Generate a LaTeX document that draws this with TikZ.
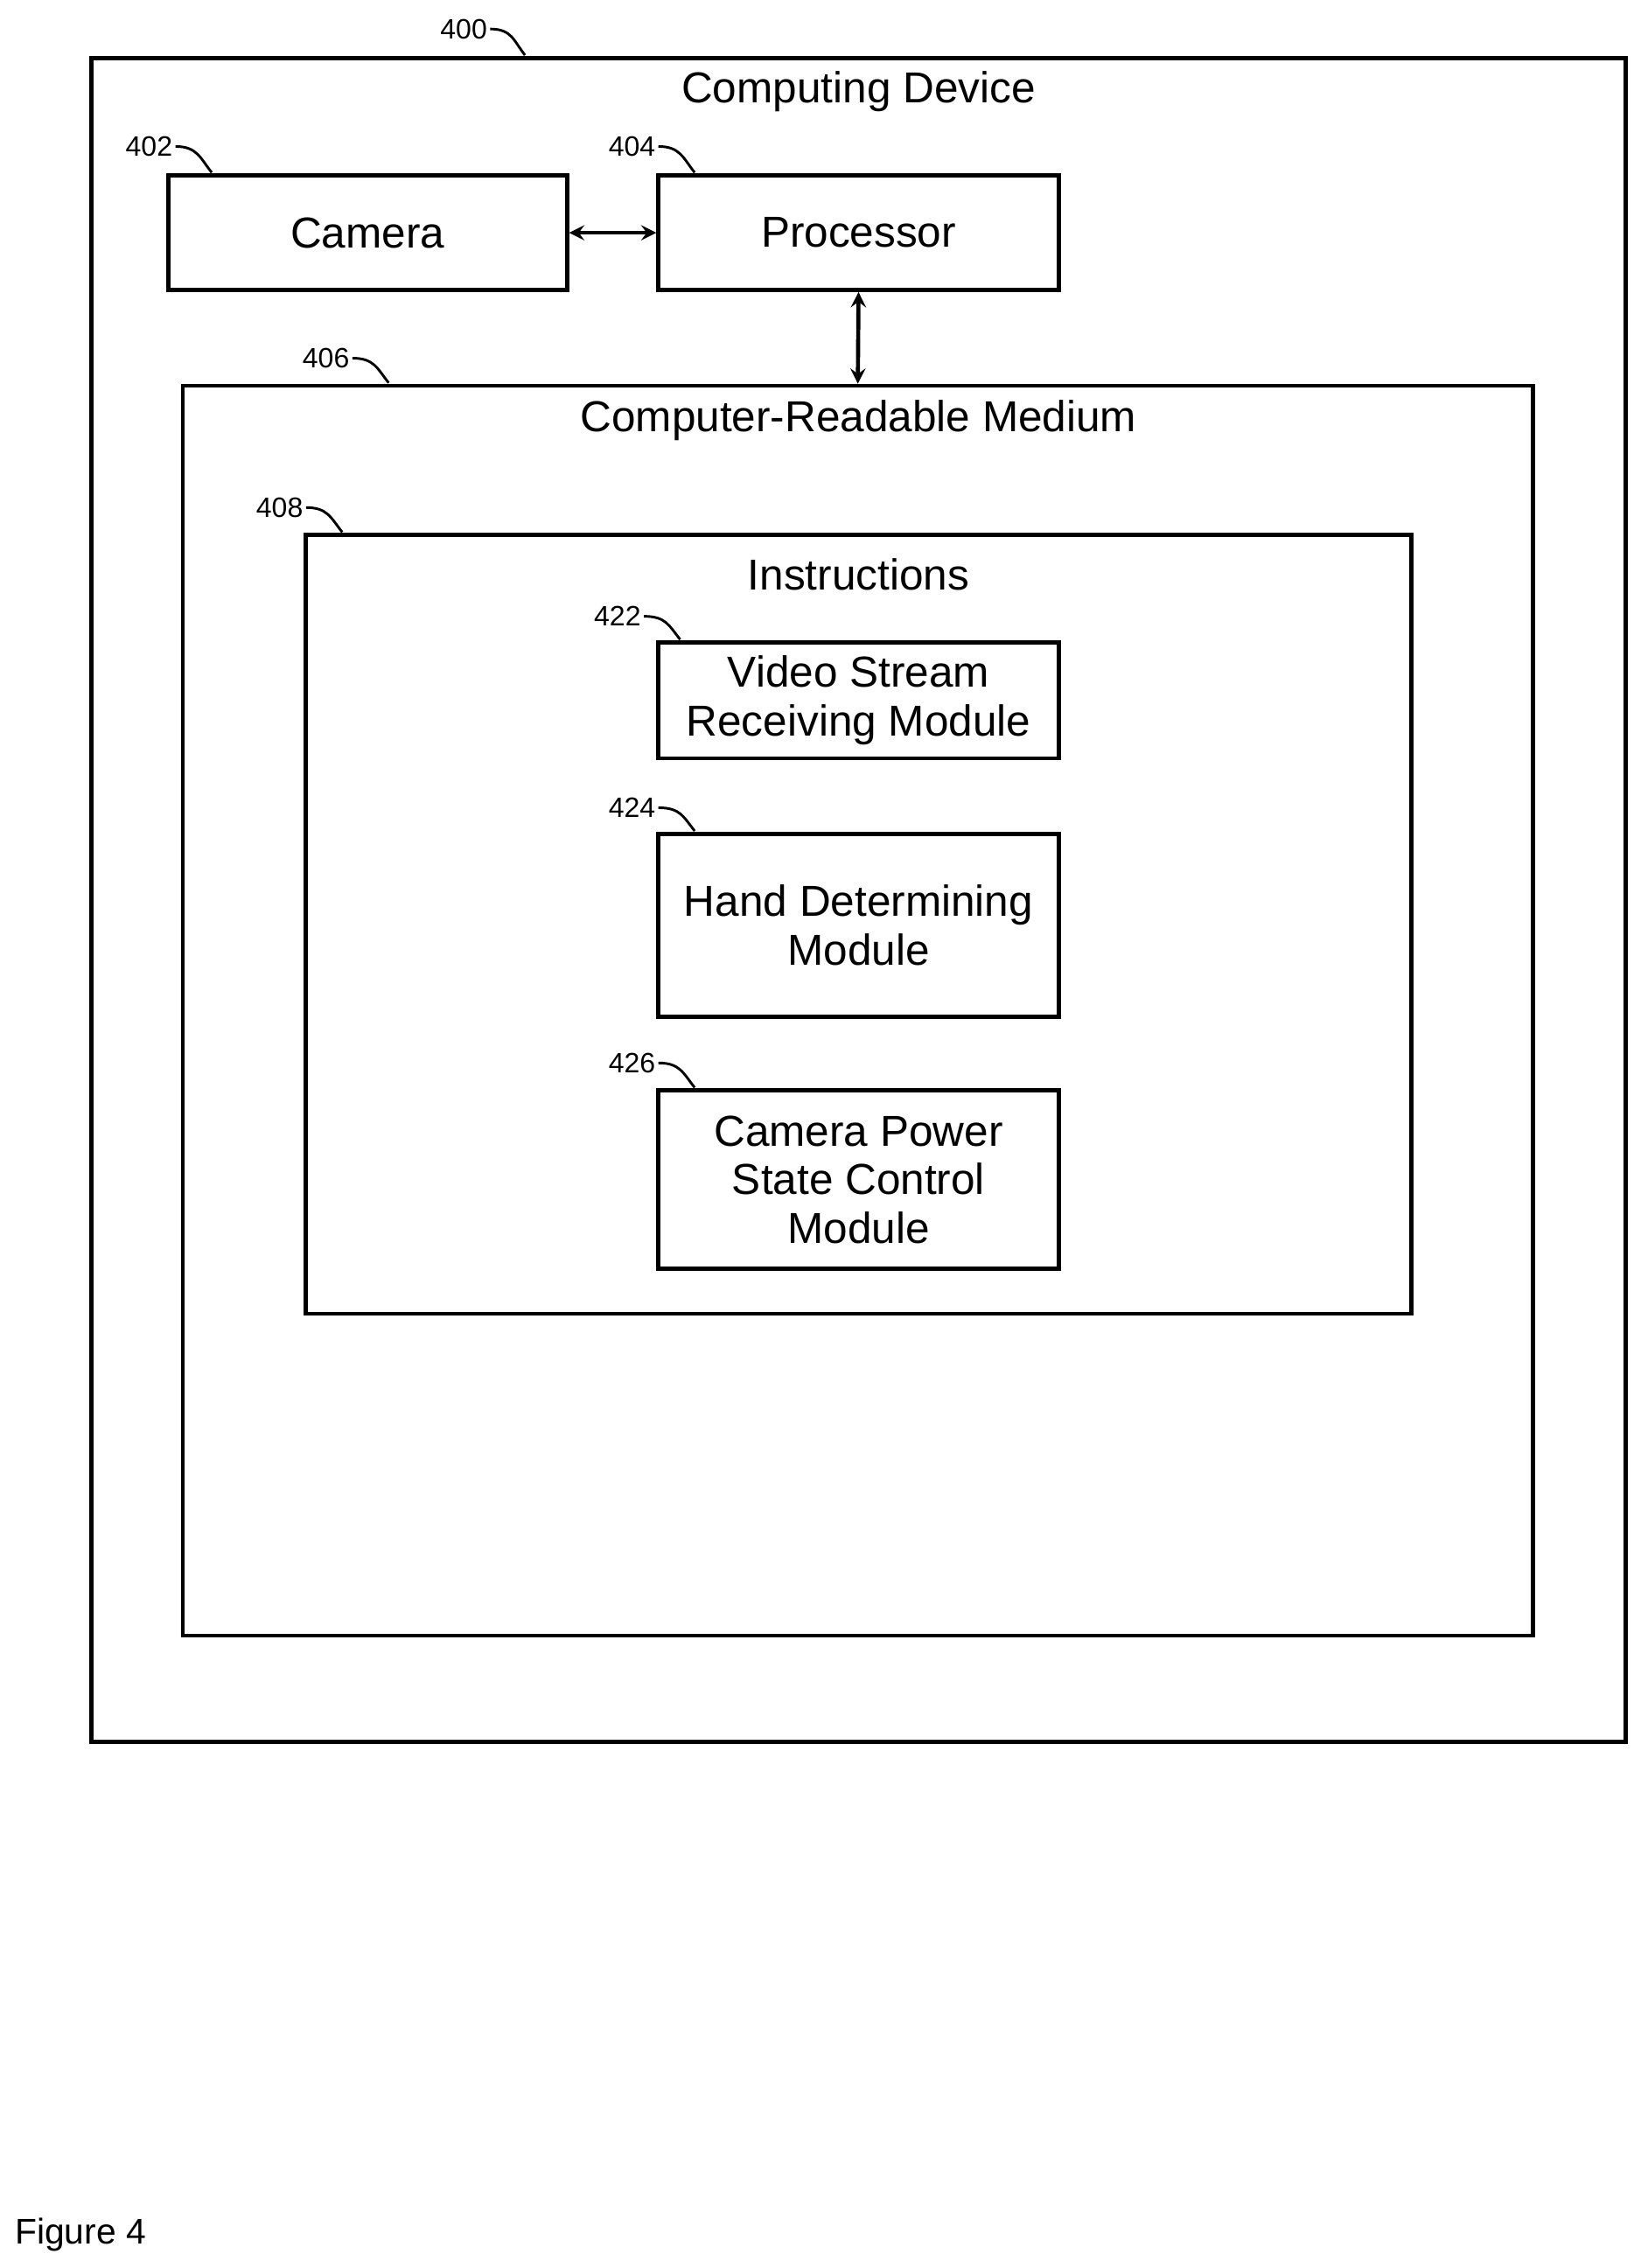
\documentclass[tikz,border=0pt]{standalone}
\usepackage{fontspec}
\setmainfont{Liberation Sans}
\usetikzlibrary{positioning}
\tikzset{
  box/.style={draw, line width=1.6pt, align=center, inner sep=0pt, font=\fontsize{17}{19}\selectfont},
  ref/.style={anchor=east, inner sep=1pt, font=\fontsize{11}{13}\selectfont},
  lead/.style={line width=1pt},
  bi/.style={line width=1.6pt, <->, >=stealth}
}
\begin{document}
\begin{tikzpicture}[x=0.02cm,y=-0.02cm]
  \useasboundingbox (0,0) rectangle (1131,1564);
  % boxes
  \node[box, minimum width=1058*0.02cm, minimum height=1161*0.02cm] (dev) at (592,620.5) {};
  \node[font=\fontsize{17}{19}\selectfont] (devl) at (592,63) {Computing Device};
  \node[box, minimum width=275*0.02cm, minimum height=79*0.02cm] (cam) at (253.5,160.5) {Camera};
  \node[box, minimum width=276*0.02cm, minimum height=79*0.02cm] (proc) at (592,160.5) {Processor};
  \node[box, minimum width=931*0.02cm, minimum height=862*0.02cm] (crm) at (591.5,697) {};
  \node[font=\fontsize{17}{19}\selectfont] (crml) at (592,290) {Computer-Readable Medium};
  \node[box, minimum width=762*0.02cm, minimum height=537*0.02cm] (ins) at (592,637.5) {};
  \node[font=\fontsize{17}{19}\selectfont] (insl) at (592,396) {Instructions};
  \node[box, minimum width=276*0.02cm, minimum height=80*0.02cm] (vid) at (592,483) {Video Stream\\Receiving Module};
  \node[box, minimum width=276*0.02cm, minimum height=126*0.02cm] (hand) at (592,638) {Hand Determining\\Module};
  \node[box, minimum width=276*0.02cm, minimum height=123*0.02cm] (pow) at (592,813.5) {Camera Power\\State Control\\Module};
  % connectors
  \draw[bi] (cam.east) -- (proc.west);
  \draw[bi] (proc.south) -- (crm.north);
  % reference numerals
  \node[ref] (n400) at (338,20) {400};
  \draw[lead] (n400.east) .. controls +(15,0) and +(-8,-10) .. (362,38);
  \node[ref] (n402) at (121,101) {402};
  \draw[lead] (n402.east) .. controls +(15,0) and +(-8,-10) .. (146,119);
  \node[ref] (n404) at (454,101) {404};
  \draw[lead] (n404.east) .. controls +(15,0) and +(-8,-10) .. (479,119);
  \node[ref] (n406) at (243,247) {406};
  \draw[lead] (n406.east) .. controls +(15,0) and +(-8,-10) .. (268,264);
  \node[ref] (n408) at (211,350) {408};
  \draw[lead] (n408.east) .. controls +(15,0) and +(-8,-10) .. (236,367);
  \node[ref] (n422) at (444,425) {422};
  \draw[lead] (n422.east) .. controls +(15,0) and +(-8,-10) .. (469,441);
  \node[ref] (n424) at (454,557) {424};
  \draw[lead] (n424.east) .. controls +(15,0) and +(-8,-10) .. (479,573);
  \node[ref] (n426) at (454,733) {426};
  \draw[lead] (n426.east) .. controls +(15,0) and +(-8,-10) .. (479,750);
  % caption
  \node[anchor=west, inner sep=0pt, font=\fontsize{14}{16}\selectfont] (fig) at (10,1541) {Figure 4};
\end{tikzpicture}
\end{document}
